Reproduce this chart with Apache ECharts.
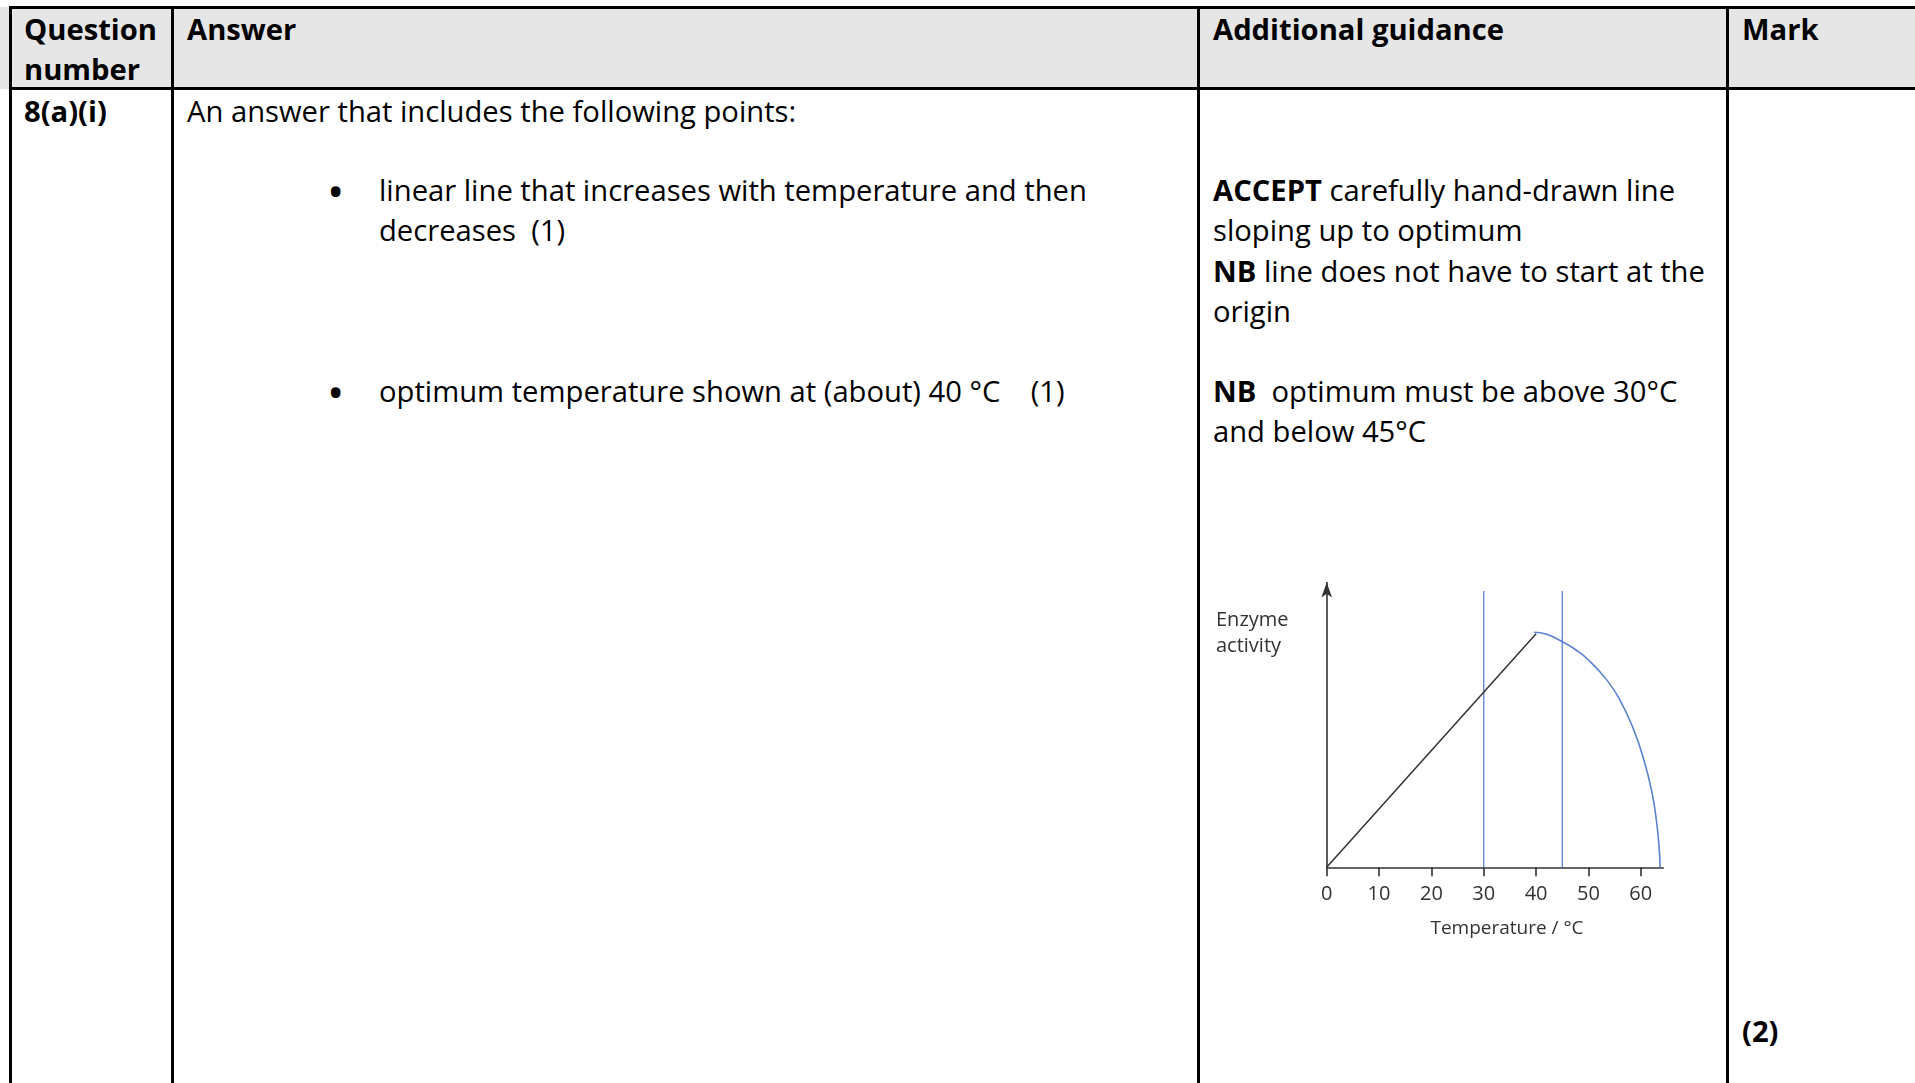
<!DOCTYPE html>
<html>
<head>
<meta charset="utf-8">
<script src="https://cdn.jsdelivr.net/npm/echarts@6/dist/echarts.min.js"></script>
<style>
  html, body { margin:0; padding:0; background:#fff; width:1915px; height:1083px; overflow:hidden; }
  body { font-family:"Open Sans", "Noto Sans", sans-serif; color:#000; font-size:29.2px; }
  .hdr { position:absolute; left:0; top:7px; width:1915px; height:82px; background:#e6e6e6; }
  .hl { position:absolute; background:#000; height:3px; }
  .vl { position:absolute; background:#000; width:3px; }
  .t { position:absolute; line-height:40.3px; white-space:nowrap; }
  .b { font-weight:700; }
  .bul { position:absolute; font-size:46px; line-height:40.3px; }
  #chart { position:absolute; left:1200px; top:560px; width:500px; height:400px; }
</style>
</head>
<body>
<div class="hdr"></div>
<div class="hl" style="left:9px; top:6px; width:1906px;"></div>
<div class="hl" style="left:9px; top:87px; width:1906px;"></div>
<div class="vl" style="left:9px; top:6px; height:1077px;"></div>
<div class="vl" style="left:171px; top:6px; height:1077px;"></div>
<div class="vl" style="left:1197px; top:6px; height:1077px;"></div>
<div class="vl" style="left:1726px; top:6px; height:1077px;"></div>

<div class="t b" style="left:24px; top:9px;">Question<br>number</div>
<div class="t b" style="left:187px; top:9px;">Answer</div>
<div class="t b" style="left:1213px; top:9px;">Additional guidance</div>
<div class="t b" style="left:1742px; top:9px;">Mark</div>

<div class="t b" style="left:24px; top:91px;">8(a)(i)</div>
<div class="t" style="left:187px; top:91px;">An answer that includes the following points:</div>

<div class="bul" style="left:327px; top:170px;">•</div>
<div class="t" style="left:379px; top:170px;">linear line that increases with temperature and then<br>decreases&nbsp; (1)</div>
<div class="bul" style="left:327px; top:371px;">•</div>
<div class="t" style="left:379px; top:371px;">optimum temperature shown at (about) 40 °C &nbsp;&nbsp; (1)</div>

<div class="t" style="left:1213px; top:170px;"><span class="b">ACCEPT</span> carefully hand-drawn line<br>sloping up to optimum<br><span class="b">NB</span> line does not have to start at the<br>origin</div>
<div class="t" style="left:1213px; top:371px;"><span class="b">NB</span>&nbsp; optimum must be above 30°C<br>and below 45°C</div>

<div class="t b" style="left:1742px; top:1011px;">(2)</div>

<div id="chart"></div>

<script>
// ---- data ----
const tempTicks = [0, 10, 20, 30, 40, 50, 60];
const riseTemp = [0, 40];
const riseActivity = [0, 44.6];
const fallTemp = [39.6, 42, 45.2, 47.5, 50, 53.5, 56, 58.6, 60.5, 62.1, 63, 63.5, 63.7];
const fallActivity = [44.9, 44.5, 43.0, 41.6, 39.6, 35.8, 32.0, 26.4, 20.8, 14.5, 8.8, 3.8, 0];
const boundTemps = [30, 45];
const boundTop = 52.8;
const xLabel = 'Temperature / °C';
const yLabel = 'Enzyme\nactivity';

const pairs = (xs, ys) => xs.map((x, i) => [x, ys[i]]);
const chart = echarts.init(document.getElementById('chart'), null, {renderer: 'canvas'});
const textColor = '#333';
const blue = '#5b82d0';
const series = [
  { type:'line', data: pairs(riseTemp, riseActivity), symbol:'none',
    lineStyle:{ color:'#333', width:1.5 }, z:3 },
  { type:'line', data: pairs(fallTemp, fallActivity), symbol:'none', smooth:0.5,
    lineStyle:{ color: blue, width:1.6 }, z:3 }
];
boundTemps.forEach(t => series.push({
  type:'line', data:[[t, 0], [t, boundTop]], symbol:'none',
  lineStyle:{ color: blue, width:1.3 }, z:2
}));
chart.setOption({
  animation:false,
  grid:{ left:126.7, right:36.7, top:22.5, bottom:92.7, containLabel:false },
  xAxis:{
    type:'value', min:0, max:64.3, interval:10,
    name: xLabel, nameLocation:'middle', nameGap:52,
    nameTextStyle:{ color:textColor, fontSize:19, fontFamily:'Open Sans', padding:[0,0,0,24] },
    axisLine:{ show:true, lineStyle:{ color:'#333', width:1.6 } },
    axisTick:{ show:true, length:9, customValues: tempTicks, lineStyle:{ color:'#333', width:1.6 } },
    axisLabel:{ customValues: tempTicks, margin:17, color:textColor, fontSize:20, fontFamily:'Open Sans' },
    splitLine:{ show:false }
  },
  yAxis:{
    type:'value', min:0, max:54.4,
    axisLine:{ show:true, symbol:['none','arrow'], symbolSize:[8,15], lineStyle:{ color:'#333', width:1.6 } },
    axisTick:{ show:false }, axisLabel:{ show:false }, splitLine:{ show:false }
  },
  graphic:[{ type:'text', left:16, top:47,
    style:{ text: yLabel, fill:textColor, font:'20px "Open Sans"', lineHeight:26 } }],
  series: series
});
</script>
</body>
</html>
